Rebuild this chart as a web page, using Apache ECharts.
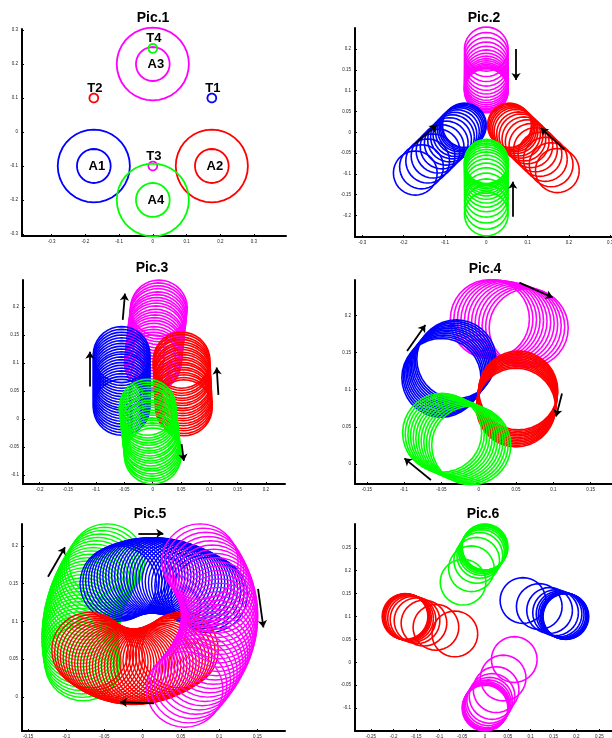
<!DOCTYPE html>
<html><head><meta charset="utf-8">
<script src="https://cdn.jsdelivr.net/npm/echarts@6/dist/echarts.min.js"></script>
<style>html,body{margin:0;padding:0;background:#fff}#c{width:612px;height:738px}</style>
</head><body><div id="c"></div>
<script>
// ---------- DATA ----------
const titles = ['Pic.1','Pic.2','Pic.3','Pic.4','Pic.5','Pic.6'];

// Pic.1
const p1Names = ['A1','A2','A3','A4'];
const p1CenterX = [-0.175, 0.175, 0, 0];
const p1CenterY = [-0.1, -0.1, 0.2, -0.2];
const p1InnerR = 0.05;
const p1OuterR = 0.107;
const p1TargetNames = ['T1','T2','T3','T4'];
const p1TargetX = [0.175, -0.175, 0, 0];
const p1TargetY = [0.1, 0.1, -0.1, 0.246];
const p1TargetR = 0.013;

// Pic.2 (circle centres)
const p2R = 0.053;
const p2Blue = [[-0.172,-0.098],[-0.157,-0.083],[-0.142,-0.069],[-0.129,-0.057],[-0.117,-0.045],[-0.107,-0.035],[-0.097,-0.026],[-0.089,-0.018],[-0.082,-0.011],[-0.076,-0.005],[-0.070,0.001],[-0.065,0.006],[-0.061,0.009],[-0.058,0.012],[-0.055,0.015],[-0.053,0.017]];
const p2Red = [[0.172,-0.092],[0.157,-0.078],[0.143,-0.065],[0.130,-0.053],[0.119,-0.042],[0.108,-0.032],[0.099,-0.023],[0.091,-0.016],[0.084,-0.009],[0.078,-0.004],[0.072,0.002],[0.068,0.006],[0.064,0.009],[0.061,0.012],[0.058,0.015],[0.056,0.017]];
const p2Magenta = [[0,0.2],[0,0.187],[0,0.175],[0,0.164],[0,0.154],[0,0.145],[0,0.137],[0,0.13],[0,0.124],[0,0.119],[0,0.114],[0,0.11],[0,0.107],[0,0.104],[0,0.102],[0,0.1]];
const p2Green = [[0,-0.196],[0,-0.180],[0,-0.165],[0,-0.151],[0,-0.138],[0,-0.127],[0,-0.117],[0,-0.108],[0,-0.100],[0,-0.094],[0,-0.088],[0,-0.083],[0,-0.079],[0,-0.075],[0,-0.073],[0,-0.070]];
const p2Arrows = [[0.072,0.2,0.072,0.126],[-0.174,-0.029,-0.120,0.018],[0.189,-0.041,0.132,0.010],[0.064,-0.203,0.064,-0.119]];

// Pic.3
const p3R = 0.05;
const p3Magenta = [[0.000,0.100],[0.001,0.105],[0.001,0.110],[0.002,0.115],[0.002,0.121],[0.003,0.126],[0.003,0.131],[0.004,0.136],[0.005,0.141],[0.005,0.146],[0.006,0.152],[0.006,0.157],[0.007,0.162],[0.007,0.167],[0.008,0.172],[0.009,0.177],[0.009,0.183],[0.010,0.188],[0.010,0.193],[0.011,0.198]];
const p3Blue = [[-0.055,0.021],[-0.055,0.026],[-0.055,0.031],[-0.055,0.036],[-0.055,0.041],[-0.055,0.046],[-0.055,0.051],[-0.055,0.056],[-0.055,0.061],[-0.055,0.066],[-0.055,0.070],[-0.055,0.075],[-0.055,0.080],[-0.055,0.085],[-0.055,0.090],[-0.055,0.095],[-0.055,0.100],[-0.055,0.105],[-0.055,0.110],[-0.055,0.115]];
const p3Red = [[0.055,0.020],[0.055,0.024],[0.055,0.029],[0.054,0.033],[0.054,0.038],[0.054,0.042],[0.054,0.047],[0.053,0.051],[0.053,0.056],[0.053,0.060],[0.053,0.065],[0.053,0.069],[0.052,0.074],[0.052,0.078],[0.052,0.083],[0.052,0.087],[0.051,0.092],[0.051,0.096],[0.051,0.101],[0.051,0.105]];
const p3Green = [[-0.009,0.021],[-0.009,0.016],[-0.008,0.012],[-0.008,0.007],[-0.007,0.003],[-0.007,-0.002],[-0.006,-0.007],[-0.006,-0.011],[-0.005,-0.016],[-0.005,-0.020],[-0.004,-0.025],[-0.004,-0.029],[-0.003,-0.034],[-0.003,-0.039],[-0.002,-0.043],[-0.002,-0.048],[-0.001,-0.052],[-0.001,-0.057],[0.000,-0.061],[0.000,-0.066]];
const p3Arrows = [[-0.053,0.177,-0.049,0.224],[-0.111,0.058,-0.111,0.120],[0.116,0.043,0.113,0.092],[0.051,-0.045,0.055,-0.075]];

// Pic.4
const p4R = 0.053;
const p4Magenta = [[0.015,0.195],[0.0197,0.1948],[0.0245,0.1944],[0.0292,0.1938],[0.0339,0.193],[0.0386,0.192],[0.0435,0.1908],[0.0482,0.1894],[0.0529,0.1878],[0.0576,0.186],[0.0623,0.1846],[0.067,0.183]];
const p4Blue = [[-0.050,0.116],[-0.0482,0.1183],[-0.0464,0.1205],[-0.0445,0.1228],[-0.0427,0.1251],[-0.0409,0.1274],[-0.0391,0.1296],[-0.0373,0.1319],[-0.0355,0.1342],[-0.0336,0.1365],[-0.0318,0.1387],[-0.030,0.141]];
const p4Red = [[0.053,0.099],[0.0527,0.0969],[0.0525,0.0948],[0.0522,0.0927],[0.0519,0.0907],[0.0516,0.0886],[0.0514,0.0865],[0.0511,0.0844],[0.0508,0.0823],[0.0505,0.0802],[0.0503,0.0781],[0.050,0.076]];
const p4Green = [[-0.010,0.025],[-0.0135,0.0265],[-0.0171,0.0281],[-0.0206,0.0296],[-0.0242,0.0312],[-0.0277,0.0327],[-0.0313,0.0343],[-0.0348,0.0358],[-0.0384,0.0374],[-0.0419,0.0389],[-0.0455,0.0405],[-0.049,0.042]];
const p4Arrows = [[0.0545,0.244,0.0992,0.224],[-0.096,0.152,-0.0715,0.187],[0.1117,0.095,0.1037,0.064],[-0.064,-0.0215,-0.0996,0.0076]];

// Pic.5
const p5R = 0.05;
const p5Blue = [[-0.032,0.150],[-0.0284,0.1518],[-0.0247,0.1534],[-0.0210,0.1548],[-0.0173,0.1561],[-0.0136,0.1572],[-0.0098,0.1582],[-0.0060,0.1590],[-0.0022,0.1597],[0.0016,0.1602],[0.0054,0.1606],[0.0093,0.1608],[0.0132,0.1608],[0.0171,0.1607],[0.0211,0.1604],[0.0250,0.1600],[0.0290,0.1594],[0.0330,0.1587],[0.0370,0.1578],[0.0410,0.1568],[0.0451,0.1556],[0.0492,0.1542],[0.0533,0.1527],[0.0575,0.1510],[0.0616,0.1492],[0.0658,0.1472],[0.0700,0.1451],[0.0742,0.1428],[0.0784,0.1404],[0.0827,0.1378],[0.087,0.135]];
const p5Magenta = [[0.075,0.179],[0.0788,0.1734],[0.0824,0.1679],[0.0856,0.1623],[0.0885,0.1567],[0.0911,0.1511],[0.0934,0.1455],[0.0954,0.1399],[0.0970,0.1343],[0.0984,0.1287],[0.0994,0.1231],[0.1002,0.1175],[0.1006,0.1119],[0.1007,0.1062],[0.1005,0.1006],[0.1000,0.0950],[0.0992,0.0894],[0.0980,0.0837],[0.0966,0.0781],[0.0948,0.0724],[0.0928,0.0668],[0.0904,0.0611],[0.0877,0.0555],[0.0847,0.0498],[0.0814,0.0441],[0.0778,0.0384],[0.0738,0.0328],[0.0696,0.0271],[0.0650,0.0214],[0.0602,0.0157],[0.055,0.010]];
const p5Red = [[0.049,0.062],[0.0448,0.0592],[0.0406,0.0565],[0.0365,0.0541],[0.0323,0.0518],[0.0282,0.0498],[0.0241,0.0479],[0.0200,0.0463],[0.0160,0.0448],[0.0119,0.0435],[0.0079,0.0424],[0.0039,0.0416],[-0.0001,0.0409],[-0.0041,0.0404],[-0.0081,0.0401],[-0.0120,0.0400],[-0.0159,0.0401],[-0.0198,0.0404],[-0.0237,0.0409],[-0.0276,0.0416],[-0.0314,0.0424],[-0.0353,0.0435],[-0.0391,0.0448],[-0.0429,0.0463],[-0.0467,0.0479],[-0.0504,0.0498],[-0.0542,0.0518],[-0.0579,0.0541],[-0.0616,0.0565],[-0.0653,0.0592],[-0.069,0.062]];
const p5Green = [[-0.078,0.045],[-0.0790,0.0495],[-0.0798,0.0539],[-0.0805,0.0584],[-0.0810,0.0629],[-0.0815,0.0673],[-0.0817,0.0718],[-0.0819,0.0763],[-0.0819,0.0807],[-0.0817,0.0852],[-0.0814,0.0897],[-0.0810,0.0941],[-0.0805,0.0986],[-0.0798,0.1031],[-0.0790,0.1075],[-0.0780,0.1120],[-0.0769,0.1165],[-0.0757,0.1209],[-0.0743,0.1254],[-0.0728,0.1299],[-0.0711,0.1343],[-0.0693,0.1388],[-0.0674,0.1433],[-0.0653,0.1477],[-0.0631,0.1522],[-0.0608,0.1567],[-0.0583,0.1611],[-0.0557,0.1656],[-0.0529,0.1701],[-0.0500,0.1745],[-0.047,0.179]];
const p5Arrows = [[-0.0057,0.2165,0.027,0.2165],[0.151,0.143,0.158,0.092],[0.0148,-0.0084,-0.0297,-0.007],[-0.124,0.159,-0.1017,0.198]];

// Pic.6
const p6R = 0.05;
const p6Green = [[-0.048,0.175],[-0.0298,0.2043],[-0.0182,0.2227],[-0.0115,0.2335],[-0.0077,0.2397],[-0.0053,0.2435],[-0.0034,0.2466],[-0.0022,0.2485],[-0.0014,0.2497],[-0.001,0.2505],[-0.0005,0.2512],[0.0,0.252]];
const p6Blue = [[0.083,0.135],[0.1187,0.1217],[0.1413,0.1133],[0.1544,0.1084],[0.162,0.1056],[0.1667,0.1039],[0.1704,0.1025],[0.1728,0.1016],[0.1742,0.101],[0.1751,0.1007],[0.1761,0.1003],[0.177,0.100]];
const p6Red = [[-0.066,0.062],[-0.1074,0.0764],[-0.1336,0.0856],[-0.1488,0.0909],[-0.1576,0.0939],[-0.163,0.0958],[-0.1674,0.0973],[-0.1701,0.0983],[-0.1717,0.0989],[-0.1728,0.0992],[-0.1739,0.0996],[-0.175,0.1]];
const p6Magenta = [[0.064,0.006],[0.0397,-0.0343],[0.0243,-0.0597],[0.0154,-0.0746],[0.0102,-0.083],[0.007,-0.0883],[0.0045,-0.0926],[0.0029,-0.0952],[0.0019,-0.0968],[0.0013,-0.0979],[0.0006,-0.0989],[0.0,-0.1]];

// axis ranges and tick labels
const xRanges = [[-0.388,0.395],[-0.318,0.3165],[-0.2292,0.2337],[-0.1658,0.1961],[-0.158,0.1863],[-0.2845,0.3063]];
const yRanges = [[-0.306,0.303],[-0.2517,0.2507],[-0.1161,0.2482],[-0.0269,0.2476],[-0.045,0.2288],[-0.15,0.302]];
const xTicks = [
  [-0.3,-0.2,-0.1,0,0.1,0.2,0.3],
  [-0.3,-0.2,-0.1,0,0.1,0.2,0.3],
  [-0.2,-0.15,-0.1,-0.05,0,0.05,0.1,0.15,0.2],
  [-0.15,-0.1,-0.05,0,0.05,0.1,0.15],
  [-0.15,-0.1,-0.05,0,0.05,0.1,0.15],
  [-0.25,-0.2,-0.15,-0.1,-0.05,0,0.05,0.1,0.15,0.2,0.25]
];
const yTicks = [
  [-0.3,-0.2,-0.1,0,0.1,0.2,0.3],
  [-0.2,-0.15,-0.1,-0.05,0,0.05,0.1,0.15,0.2],
  [-0.1,-0.05,0,0.05,0.1,0.15,0.2],
  [0,0.05,0.1,0.15,0.2],
  [0,0.05,0.1,0.15,0.2],
  [-0.1,-0.05,0,0.05,0.1,0.15,0.2,0.25]
];

// ---------- STYLE ----------
const BLUE='#0000ff', RED='#ff0000', MAG='#ff00ff', GRN='#00ff00';
const p1Colors = [BLUE, RED, MAG, GRN];
const FONT = 'Liberation Sans, Arial, sans-serif';
const NSEG = 36;
const LW = 1.6;
const gridBoxes = [
  {left:22, top:29, width:264, height:207},
  {left:355, top:28, width:262, height:209},
  {left:23, top:280, width:262, height:204},
  {left:355, top:280, width:270, height:204},
  {left:22, top:524, width:263, height:207},
  {left:355, top:524, width:270, height:207}
];
const titlePos = [[153,11],[484,11],[152,261],[485,262],[150,507],[483,507]];

function circleSeries(g, pts, r, color, lw) {
  return {
    type:'custom', xAxisIndex:g, yAxisIndex:g, coordinateSystem:'cartesian2d',
    silent:true, clip:false, animation:false,
    data: pts.map(p => [p[0], p[1], r]),
    encode:{x:0, y:1},
    renderItem: function (params, api) {
      const cx = api.value(0), cy = api.value(1), rr = api.value(2);
      const pp = [];
      for (let i = 0; i <= NSEG; i++) {
        const a = 2 * Math.PI * i / NSEG;
        pp.push(api.coord([cx + rr * Math.cos(a), cy + rr * Math.sin(a)]));
      }
      return {type:'polyline', shape:{points:pp}, style:{stroke:color, lineWidth:lw, fill:'none'}};
    }
  };
}
function arrowSeries(g, arr) {
  return {
    type:'lines', coordinateSystem:'cartesian2d', xAxisIndex:g, yAxisIndex:g, silent:true,
    symbol:['none','arrow'], symbolSize:7, animation:false,
    lineStyle:{color:'#000', width:1.8, opacity:1},
    data: arr.map(a => ({coords:[[a[0],a[1]],[a[2],a[3]]]}))
  };
}
function textSeries(g, xs, ys, names, dx, dy) {
  return {
    type:'custom', xAxisIndex:g, yAxisIndex:g, coordinateSystem:'cartesian2d', silent:true, clip:false,
    data: xs.map((x,i) => [x, ys[i]]), encode:{x:0,y:1},
    renderItem: function (params, api) {
      const p = api.coord([api.value(0), api.value(1)]);
      return {type:'text', x:p[0]+dx, y:p[1]+dy,
        style:{text:names[params.dataIndex], fill:'#000', font:'bold 13px ' + FONT, align:'center', verticalAlign:'middle'}};
    }
  };
}

const grids = gridBoxes.map(b => Object.assign({containLabel:false, outerBoundsMode:'none'}, b));
const xAxes = xRanges.map((r,i) => ({
  gridIndex:i, type:'value', min:r[0], max:r[1],
  axisLine:{show:true, onZero:false, lineStyle:{color:'#000', width:2}},
  axisTick:{show:true, inside:true, length:2, customValues:xTicks[i], lineStyle:{color:'#000', width:1}},
  axisLabel:{show:true, customValues:xTicks[i], fontSize:4.5, color:'#222', margin:3, fontFamily:FONT},
  splitLine:{show:false}
}));
const yAxes = yRanges.map((r,i) => ({
  gridIndex:i, type:'value', min:r[0], max:r[1],
  axisLine:{show:true, onZero:false, lineStyle:{color:'#000', width:2}},
  axisTick:{show:true, inside:true, length:2, customValues:yTicks[i], lineStyle:{color:'#000', width:1}},
  axisLabel:{show:true, customValues:yTicks[i], fontSize:4.5, color:'#222', margin:4, fontFamily:FONT},
  splitLine:{show:false}
}));

const series = [];
// Pic.1
for (let i = 0; i < 4; i++) {
  series.push(circleSeries(0, [[p1CenterX[i], p1CenterY[i]]], p1InnerR, p1Colors[i], 1.8));
  series.push(circleSeries(0, [[p1CenterX[i], p1CenterY[i]]], p1OuterR, p1Colors[i], 1.8));
  series.push(circleSeries(0, [[p1TargetX[i], p1TargetY[i]]], p1TargetR, p1Colors[i], 1.8));
}
series.push(textSeries(0, p1CenterX, p1CenterY, p1Names, 3, 0));
series.push(textSeries(0, p1TargetX, p1TargetY, p1TargetNames, 1, -10));
// Pic.2
series.push(circleSeries(1, p2Magenta, p2R, MAG, LW));
series.push(circleSeries(1, p2Blue, p2R, BLUE, LW));
series.push(circleSeries(1, p2Red, p2R, RED, LW));
series.push(circleSeries(1, p2Green, p2R, GRN, LW));
series.push(arrowSeries(1, p2Arrows));
// Pic.3
series.push(circleSeries(2, p3Magenta, p3R, MAG, LW));
series.push(circleSeries(2, p3Blue, p3R, BLUE, LW));
series.push(circleSeries(2, p3Red, p3R, RED, LW));
series.push(circleSeries(2, p3Green, p3R, GRN, LW));
series.push(arrowSeries(2, p3Arrows));
// Pic.4
series.push(circleSeries(3, p4Magenta, p4R, MAG, LW));
series.push(circleSeries(3, p4Blue, p4R, BLUE, LW));
series.push(circleSeries(3, p4Red, p4R, RED, LW));
series.push(circleSeries(3, p4Green, p4R, GRN, LW));
series.push(arrowSeries(3, p4Arrows));
// Pic.5
series.push(circleSeries(4, p5Green, p5R, GRN, 1.4));
series.push(circleSeries(4, p5Blue, p5R, BLUE, 1.4));
series.push(circleSeries(4, p5Red, p5R, RED, 1.4));
series.push(circleSeries(4, p5Magenta, p5R, MAG, 1.4));
series.push(arrowSeries(4, p5Arrows));
// Pic.6
series.push(circleSeries(5, p6Green, p6R, GRN, LW));
series.push(circleSeries(5, p6Blue, p6R, BLUE, LW));
series.push(circleSeries(5, p6Red, p6R, RED, LW));
series.push(circleSeries(5, p6Magenta, p6R, MAG, LW));

const chart = echarts.init(document.getElementById('c'), null, {renderer:'canvas'});
chart.setOption({
  animation:false,
  backgroundColor:'#fff',
  title: titles.map((t,i) => ({text:t, left:titlePos[i][0], top:titlePos[i][1], textAlign:'center', padding:0,
    textStyle:{fontSize:14, fontWeight:'bold', fontFamily:FONT, color:'#000'}})),
  grid: grids, xAxis: xAxes, yAxis: yAxes, series: series
});
</script></body></html>
